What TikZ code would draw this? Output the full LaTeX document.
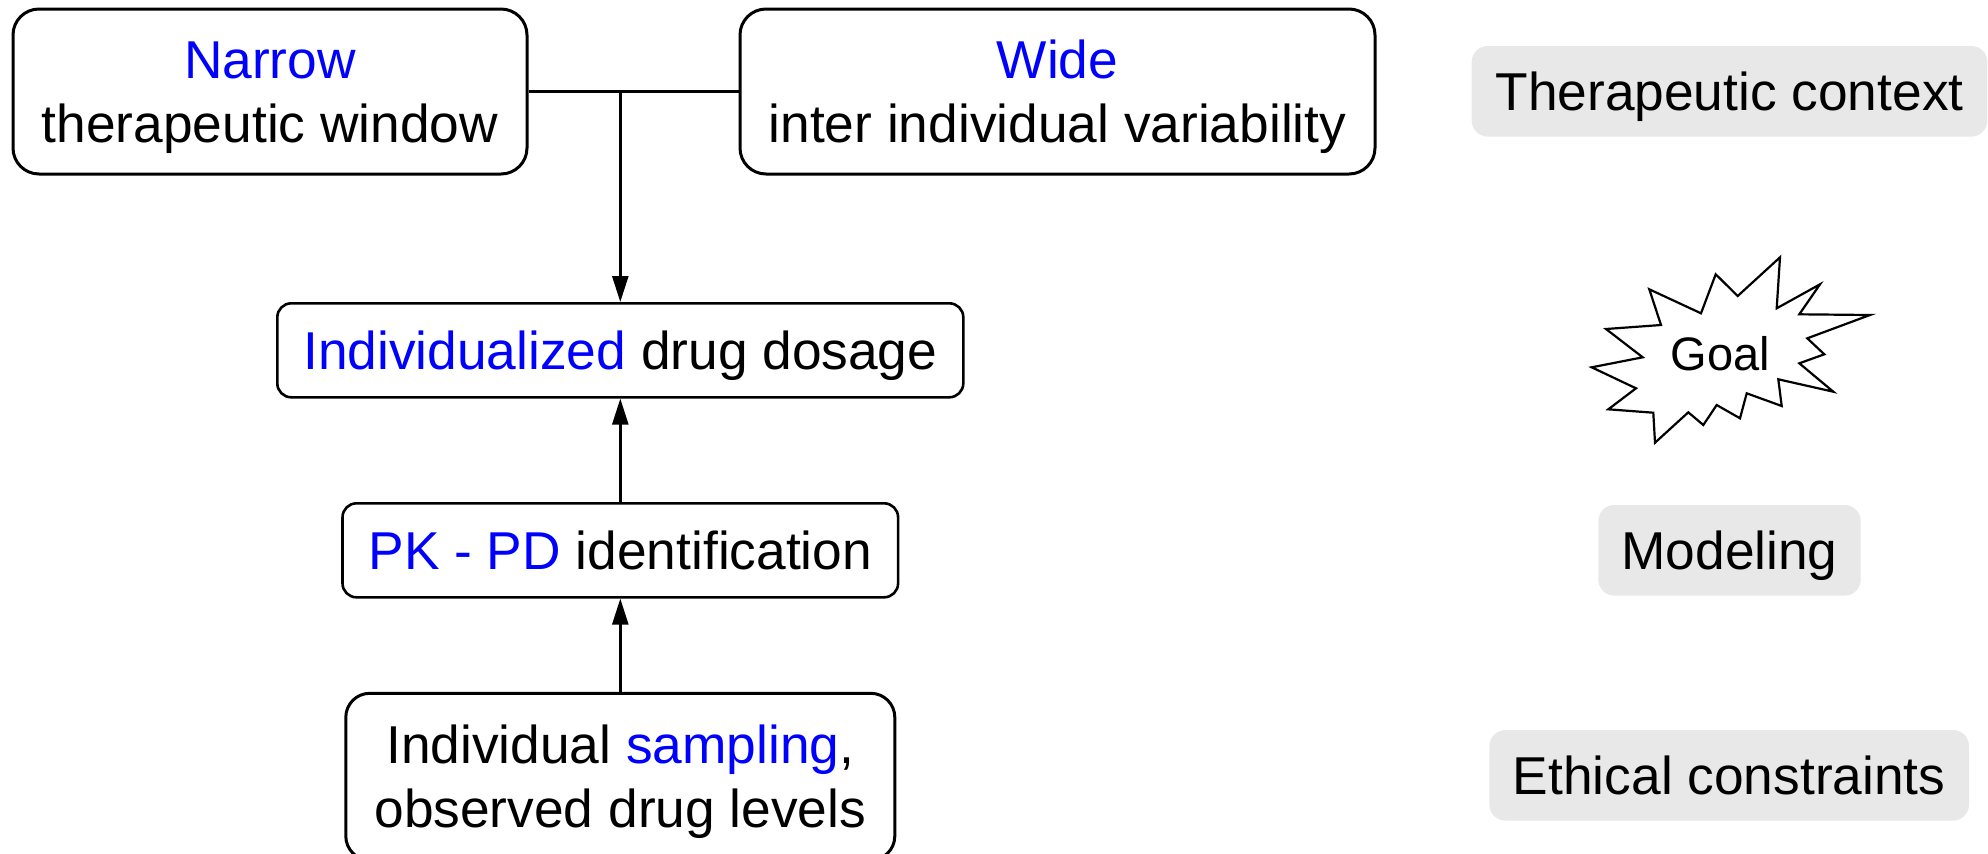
\documentclass[tikz,border=0pt]{standalone}
\usepackage{fontspec}
\setmainfont{Liberation Sans}
\usetikzlibrary{arrows.meta}
\definecolor{ctxgray}{RGB}{232,232,232}
\definecolor{hl}{RGB}{0,0,255}
\newcommand{\oneline}[1]{\raisebox{0pt}[19.1pt][0pt]{#1}}
\newcommand{\twoline}[2]{\raisebox{0pt}[19.1pt][31.85pt]{\begin{tabular}[t]{@{}c@{}}#1\\#2\end{tabular}}}
\begin{document}
\begin{tikzpicture}[x=0.5pt,y=-0.5pt,
  txt/.style={font=\fontsize{26.65pt}{31.85pt}\selectfont, inner sep=0pt},
  boxbig/.style={txt, draw, line width=1.5pt, rounded corners=13pt, minimum height=82.5pt},
  boxsmall/.style={txt, draw, line width=1.3pt, rounded corners=7pt, minimum height=47pt},
  ctx/.style={txt, fill=ctxgray, rounded corners=8pt, minimum height=45.3pt},
  conn/.style={line width=1.25pt},
  arr/.style={conn, -{Triangle[length=13pt,width=8pt]}}
]
\useasboundingbox (0,0) rectangle (1988,853);

% left column
\node[boxbig, minimum width=257pt] (narrow) at (270,91.5)
  {\twoline{\textcolor{hl}{Narrow}}{therapeutic window}};
\node[boxbig, minimum width=317.5pt] (wide) at (1057.5,91.5)
  {\twoline{\textcolor{hl}{Wide}}{inter individual variability}};
\node[boxsmall, minimum width=343pt] (indiv) at (620.3,350.3)
  {\oneline{\textcolor{hl}{Individualized} drug dosage}};
\node[boxsmall, minimum width=277.8pt] (pkpd) at (620.3,550.3)
  {\oneline{\textcolor{hl}{PK - PD} identification}};
\node[boxbig, rounded corners=12pt, minimum width=274.5pt, minimum height=83.4pt] (samp) at (620.3,776.7)
  {\twoline{Individual \textcolor{hl}{sampling},}{observed drug levels}};

\coordinate (junc) at (620.3,91.5);
\draw[conn] (narrow.east) -- (wide.west);
\draw[arr] (junc) -- (indiv.north);
\draw[arr] (pkpd.north) -- (indiv.south);
\draw[arr] (samp.north) -- (pkpd.south);

% right column
\node[ctx, minimum width=257.8pt] (ther) at (1729.5,91.3) {\oneline{Therapeutic context}};
\node[ctx, minimum width=131.2pt] (model) at (1729.5,550.3) {\oneline{Modeling}};
\node[ctx, minimum width=239.8pt] (eth) at (1729.2,775.3) {\oneline{Ethical constraints}};

% starburst
\draw[line width=1.1pt, line join=miter, fill=white]
  (1780,257.3) -- (1776.7,308.3) -- (1820,284.3) -- (1799.3,314.3) -- (1870,315)
  -- (1807.3,338.3) -- (1824.3,354.3) -- (1799.3,363.3) -- (1833.3,391.7)
  -- (1778.3,379.3) -- (1781.7,406) -- (1746.7,393.3) -- (1740,418.3)
  -- (1716.7,405) -- (1703.3,425) -- (1688.3,412.3) -- (1655,442.7)
  -- (1653.3,412.7) -- (1608.3,409.3) -- (1636,388.3) -- (1591.7,367.3)
  -- (1642.7,357.3) -- (1606,329) -- (1661,325) -- (1649.3,289.3)
  -- (1701,313.3) -- (1715.7,274.3) -- (1737.7,296) -- cycle;
\node[font=\fontsize{23.5pt}{28pt}\selectfont, inner sep=0pt] (goal) at (1720.3,353.3)
  {\raisebox{0pt}[16.8pt][0pt]{Goal}};
\end{tikzpicture}
\end{document}
